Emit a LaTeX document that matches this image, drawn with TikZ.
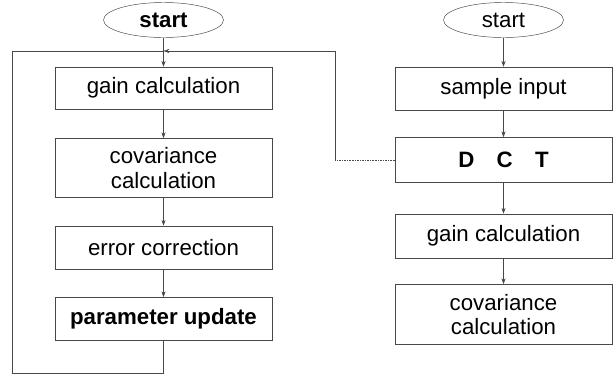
\documentclass[tikz,border=0pt]{standalone}
\usepackage{fontspec}
\setmainfont{Liberation Sans}
\usetikzlibrary{shapes.geometric, arrows.meta, positioning}
\definecolor{scanInk}{RGB}{72,72,72}
\definecolor{scanPaper}{RGB}{255,255,255}

\begin{document}
\begin{tikzpicture}[
      stepbox/.style={draw=scanInk, thin, minimum width=6.5cm, minimum height=1.28cm,
      align=center, font=\fontsize{19}{21}\selectfont, inner sep=2pt},
      startnode/.style={ellipse, draw=scanInk, thin, minimum width=3.6cm, minimum height=1.05cm,
      font=\fontsize{19}{21}\selectfont},
      arrow/.style={-{Stealth[length=5pt, width=3.5pt]}, thin, draw=scanInk},
      link/.style={thin, draw=scanInk}
    ]
    \useasboundingbox[fill=scanPaper] (0,0) rectangle (18.39,-11.28);

    % training loop
    \node[startnode, font=\fontsize{19}{21}\selectfont\bfseries] (start) at (4.905,-0.6) {start};
    \node[stepbox, below=0.87cm of start, minimum height=1.26cm] (gain) {gain calculation};
    \node[stepbox, below=0.87cm of gain, minimum height=1.77cm] (cov) {covariance\\calculation};
    \node[stepbox, below=0.84cm of cov, minimum height=1.29cm] (err) {error correction};
    \node[stepbox, below=0.84cm of err, minimum height=1.29cm, font=\fontsize{19}{21}\selectfont\bfseries] (param) {parameter update};

    % transform branch
    \node[startnode] (start2) at (15.105,-0.6) {start};
    \node[stepbox, below=0.87cm of start2, minimum height=1.29cm] (sample) {sample input};
    \node[stepbox, below=0.81cm of sample, minimum height=1.35cm, font=\fontsize{19}{21}\selectfont\bfseries] (dct) {D\quad C\quad T};
    \node[stepbox, below=0.93cm of dct, minimum height=1.32cm] (gain2) {gain calculation};
    \node[stepbox, below=0.78cm of gain2, minimum height=1.8cm] (cov2) {covariance\\calculation};

    \coordinate (railtop) at (0,-1.53);
    \coordinate (merge) at (start.south |- railtop);
    \coordinate (leftrail) at (0.36,-11.19);
    \coordinate (rightrail) at (10.05,-1.53);

    \draw[arrow] (start) -- (gain);
    \draw[arrow] (gain) -- (cov);
    \draw[arrow] (cov) -- (err);
    \draw[arrow] (err) -- (param);
    \draw[link] (param.south) |- (leftrail) |- (merge);

    \draw[arrow] (start2) -- (sample);
    \draw[arrow] (sample) -- (dct);
    \draw[arrow] (dct) -- (gain2);
    \draw[arrow] (gain2) -- (cov2);
    \draw[link, densely dotted] (dct.west) -- (dct.west -| rightrail);
    \draw[arrow] (dct.west -| rightrail) -- (rightrail) -- (merge);
  \end{tikzpicture}
\end{document}
